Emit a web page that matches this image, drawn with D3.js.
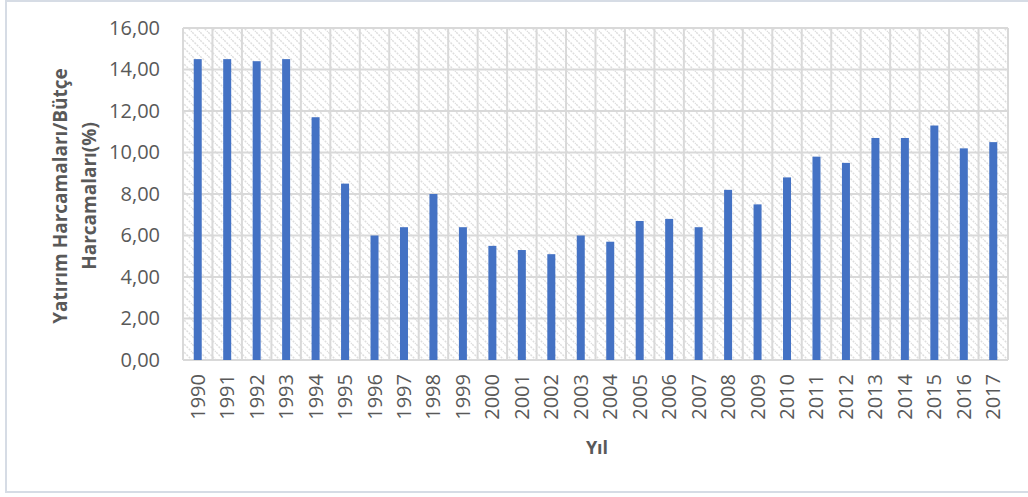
<!DOCTYPE html>
<html><head><meta charset="utf-8">
<script src="https://cdn.jsdelivr.net/npm/d3@7"></script>
<style>body{margin:0;background:#fff}svg{display:block}</style>
</head><body>
<svg id="c" width="1028" height="497"></svg>
<script>
const years = ["1990","1991","1992","1993","1994","1995","1996","1997","1998","1999","2000","2001","2002","2003","2004","2005","2006","2007","2008","2009","2010","2011","2012","2013","2014","2015","2016","2017"];
const values = [14.5,14.5,14.4,14.5,11.7,8.5,6.0,6.4,8.0,6.4,5.5,5.3,5.1,6.0,5.7,6.7,6.8,6.4,8.2,7.5,8.8,9.8,9.5,10.7,10.7,11.3,10.2,10.5];
const yTicks = [0,2,4,6,8,10,12,14,16];
const yTitle = ["Yatırım Harcamaları/Bütçe","Harcamaları(%)"];
const xTitle = "Yıl";

const svg = d3.select("#c");
const font = "'Open Sans', Calibri, sans-serif";
const txt = "#595959";
const m = {l:183, r:1008, t:28, b:360};

// frame
svg.append("rect").attr("x",6).attr("y",1).attr("width",1040).attr("height",491)
  .attr("fill","#fff").attr("stroke","#d6dce5").attr("stroke-width",2);

const defs = svg.append("defs");
const pat = defs.append("pattern").attr("id","hatch").attr("patternUnits","userSpaceOnUse")
  .attr("width",8).attr("height",8);
pat.append("rect").attr("width",8).attr("height",8).attr("fill","#fff");
pat.append("path").attr("d","M-2,-2 L10,10 M-2,6 L2,10 M6,-2 L10,2")
  .attr("stroke","#dedede").attr("stroke-width",1.5).attr("stroke-dasharray","2,1.2");

const x = d3.scaleBand().domain(years).range([m.l,m.r]).paddingInner(0).paddingOuter(0);
const y = d3.scaleLinear().domain([0,16]).range([m.b,m.t]);

svg.append("rect").attr("x",m.l).attr("y",m.t).attr("width",m.r-m.l).attr("height",m.b-m.t)
  .attr("fill","url(#hatch)");

// grid
const g = svg.append("g");
g.selectAll(".h").data(yTicks).enter().append("line")
  .attr("x1",m.l).attr("x2",m.r).attr("y1",d=>y(d)).attr("y2",d=>y(d))
  .attr("stroke","#d9d9d9").attr("stroke-width",2);
const bounds = years.map(d=>x(d)).concat([x(years[years.length-1])+x.bandwidth()]);
g.selectAll(".v").data(bounds).enter().append("line")
  .attr("x1",d=>d).attr("x2",d=>d).attr("y1",m.t).attr("y2",m.b)
  .attr("stroke","#d9d9d9").attr("stroke-width",2);

// bars
const bw = 8;
svg.selectAll(".bar").data(values).enter().append("rect")
  .attr("x",(d,i)=>x(years[i])+x.bandwidth()/2-bw/2)
  .attr("y",d=>y(d)).attr("width",bw).attr("height",d=>y(0)-y(d))
  .attr("fill","#4472c4");

// y tick labels
const yAxis = d3.axisLeft(y).tickValues(yTicks).tickSize(0).tickPadding(0)
  .tickFormat(d=>d3.format(".2f")(d).replace(".",","));
const ya = svg.append("g").attr("transform",`translate(160,0)`).call(yAxis);
ya.select(".domain").remove();
ya.selectAll("text").attr("font-family",font).attr("font-size",20).attr("fill",txt);

// x tick labels
const xAxis = d3.axisBottom(x).tickSize(0).tickPadding(0);
const xa = svg.append("g").attr("transform",`translate(0,${m.b})`).call(xAxis);
xa.select(".domain").remove();
xa.selectAll("text").attr("font-family",font).attr("font-size",20).attr("fill",txt)
  .attr("transform","rotate(-90)").attr("text-anchor","end").attr("x",-14).attr("y",0).attr("dy","0.35em");

// titles
svg.append("text").attr("x",597).attr("y",454).attr("text-anchor","middle")
  .attr("font-family",font).attr("font-size",18).attr("font-weight","bold").attr("fill",txt).text(xTitle);
const yt = svg.append("text").attr("transform","translate(60,196) rotate(-90)")
  .attr("text-anchor","middle").attr("font-family",font).attr("font-size",19)
  .attr("font-weight","bold").attr("fill",txt);
yt.append("tspan").attr("x",0).attr("dy","0.35em").text(yTitle[0]);
yt.append("tspan").attr("x",0).attr("dy","1.55em").text(yTitle[1]);
</script>
</body></html>
